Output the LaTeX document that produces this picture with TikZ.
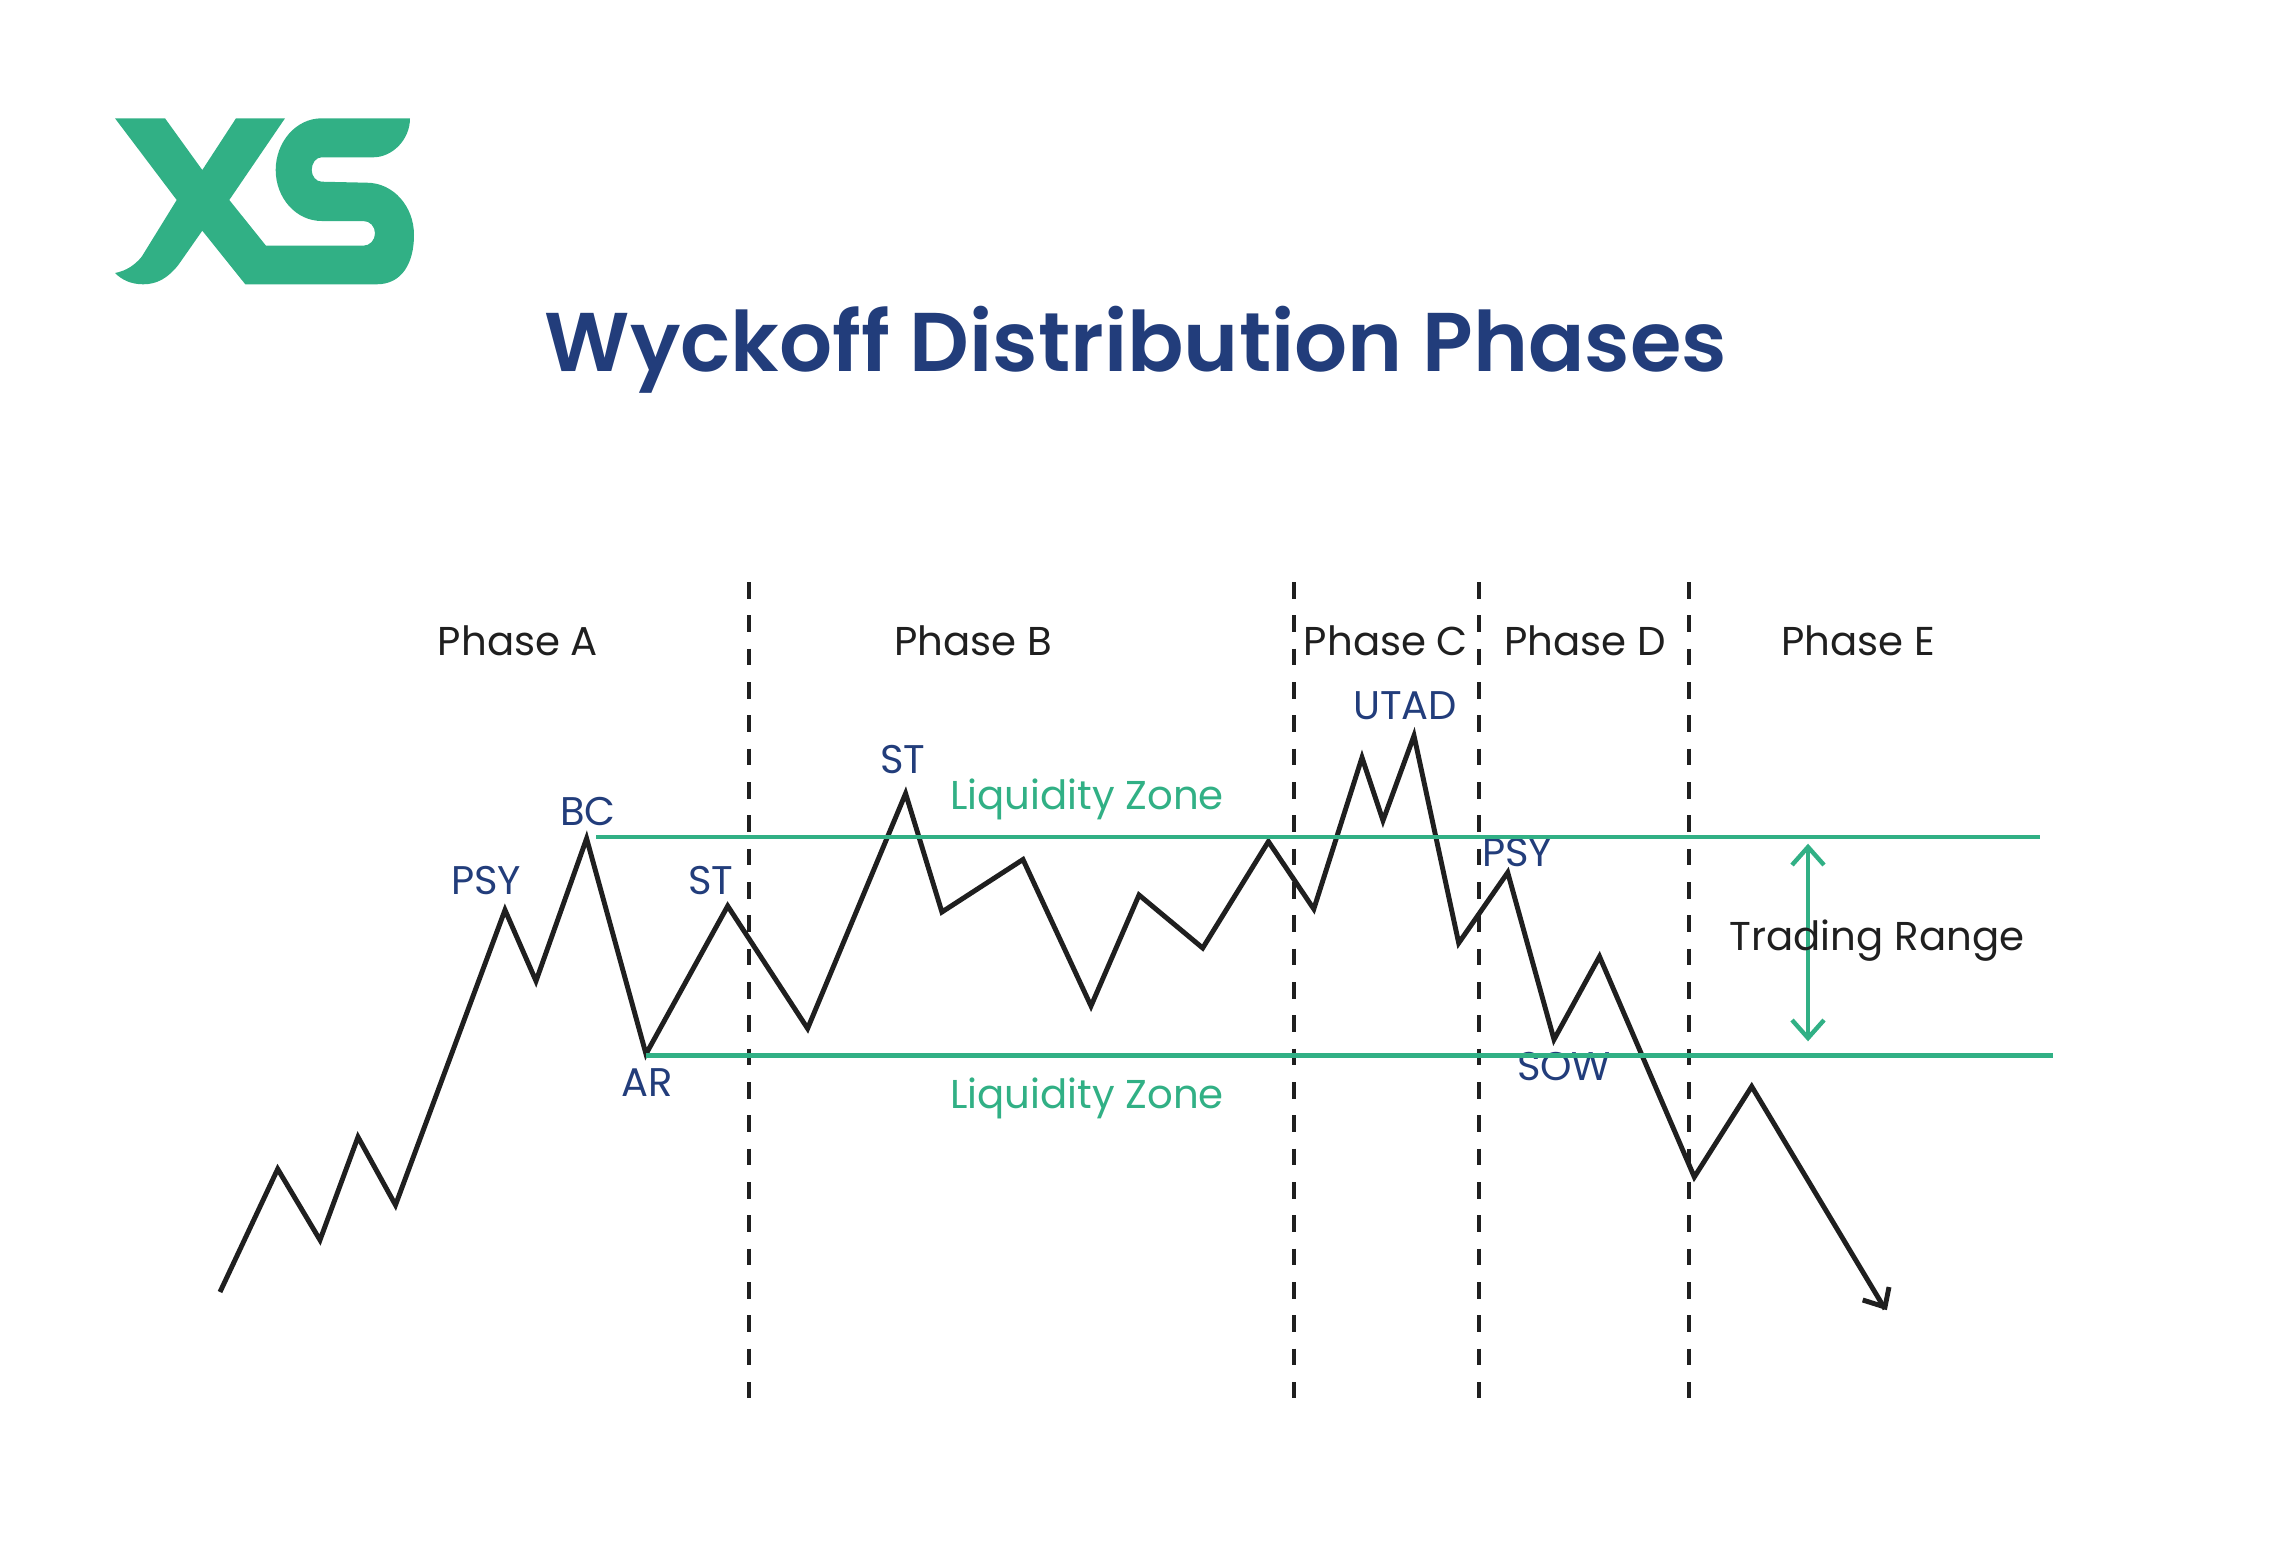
\documentclass[tikz,border=0pt]{standalone}
\usepackage{fontspec}
\usepackage{xcolor}
\setmainfont{Poppins}
\newfontfamily\titlefont{Poppins SemiBold}
\definecolor{xsgreen}{RGB}{49,176,133}
\definecolor{xsnavy}{RGB}{34,61,123}
\definecolor{xsblack}{RGB}{31,31,31}
\tikzset{
  phaselabel/.style={text=xsblack,font=\fontsize{30.2}{34}\selectfont,inner sep=0pt},
  pointlabel/.style={text=xsnavy,font=\fontsize{30}{34}\selectfont,inner sep=0pt},
  zonelabel/.style={text=xsgreen,font=\fontsize{30.2}{34}\selectfont,inner sep=0pt},
  phaseline/.style={draw=xsblack,line width=3.6pt,dash pattern=on 12.5pt off 12.5pt},
  zoneline/.style={draw=xsgreen,line width=3.3pt},
  priceline/.style={draw=xsblack,line width=3.7pt,line join=miter},
}
\begin{document}
\begin{tikzpicture}[x=0.75pt,y=0.75pt,yscale=-1,xscale=1]
  \useasboundingbox (0,0) rectangle (2272,1553);

  %Logo
  \fill [xsgreen] (229.3,200) -- (285,118.3) -- (236,118.3) -- (202.3,170) -- (165,118.3) -- (115,118.3) -- (176.7,200) -- (141.7,256.7) .. controls (135,265) and (126,271) .. (115,273) .. controls (122,280) and (131,284.3) .. (143.3,284.3) .. controls (157,284.3) and (168,278) .. (178.3,265) -- (202.3,230.7) -- (245.3,284.3) -- (376.7,284.3) .. controls (402,284.3) and (414,263) .. (414,235) .. controls (414,206) and (393,182.7) .. (366.7,182.7) -- (321.7,181.7) .. controls (316,181.7) and (311.7,176) .. (311.7,170) .. controls (311.7,163) and (316,157.3) .. (321.7,157.3) -- (373.3,157.3) .. controls (392,157.3) and (410,140) .. (410,118.3) -- (321.7,118.3) .. controls (296,118.3) and (275.7,142) .. (275.7,170) .. controls (275.7,198) and (296,221) .. (321.7,221) -- (363.3,221) .. controls (370,221) and (375,226.5) .. (375,233.3) .. controls (375,240) and (370,245.7) .. (363.3,245.7) -- (266,245.7) -- cycle;

  %Title
  \node (title) at (1136,350) [text=xsnavy,inner sep=0pt,font=\fontsize{62.5}{70}\titlefont] {Wyckoff Distribution Phases};

  %Phase separators
  \foreach \name/\xpos in {sepab/749,sepbc/1294,sepcd/1479,sepde/1689} {
    \coordinate (\name top) at (\xpos,582);
    \coordinate (\name bot) at (\xpos,1398);
    \draw [phaseline] (\name top) -- (\name bot);
  }

  %Price path
  \draw [priceline] (220,1292) -- (277.7,1169) -- (320,1240) -- (358,1137) -- (395.5,1205) -- (505,910) -- (536,981) -- (586.6,838.5) -- (646,1054) -- (727.7,906) -- (807.6,1028.5) -- (905.6,793.5) -- (941.9,912) -- (1023,859.5) -- (1091,1006) -- (1139,895) -- (1202.7,948) -- (1268.4,841.5) -- (1313.8,909) -- (1362,757.5) -- (1383,820.5) -- (1414,735.7) -- (1458.7,943) -- (1507.7,872.5) -- (1554,1039.5) -- (1599.5,956.5) -- (1694.3,1177) -- (1751.7,1086.5) -- (1885,1309);
  \draw [priceline] (1889,1287) -- (1885,1307) -- (1862.7,1300);

  %Labels
  \node (phaseA) at (518,641) [phaselabel] {Phase A};
  \node (phaseB) at (973,641) [phaselabel] {Phase B};
  \node (phaseC) at (1386,641) [phaselabel] {Phase C};
  \node (phaseD) at (1585,641) [phaselabel] {Phase D};
  \node (phaseE) at (1858,641) [phaselabel] {Phase E};
  \node (psyA) at (486,881) [pointlabel] {PSY};
  \node (bc) at (588,811) [pointlabel] {BC};
  \node (stA) at (711,881) [pointlabel] {ST};
  \node (ar) at (647,1083) [pointlabel] {AR};
  \node (stB) at (903,760) [pointlabel] {ST};
  \node (utad) at (1405,706) [pointlabel] {UTAD};
  \node (psyD) at (1517,853) [pointlabel] {PSY};
  \node (sow) at (1564,1067) [pointlabel] {SOW};
  \node (zoneup) at (1087,799) [zonelabel] {Liquidity Zone};
  \node (zonelow) at (1087,1098) [zonelabel] {Liquidity Zone};

  %Range lines and arrow
  \coordinate (upstart) at (596.4,837);
  \coordinate (upend) at (2040,837);
  \coordinate (lowstart) at (646,1055.5);
  \coordinate (lowend) at (2053,1055.5);
  \draw [zoneline] (upstart) -- (upend);
  \draw [zoneline] (lowstart) -- (lowend);
  \coordinate (rangetop) at (1808,847);
  \coordinate (rangebot) at (1808,1038);
  \draw [zoneline] (rangetop) -- (rangebot);
  \draw [zoneline] (1792,865) -- (rangetop) -- (1824,865);
  \draw [zoneline] (1792,1020) -- (rangebot) -- (1824,1020);
  \node (range) at (1877,941) [phaselabel] {Trading Range};
\end{tikzpicture}
\end{document}
